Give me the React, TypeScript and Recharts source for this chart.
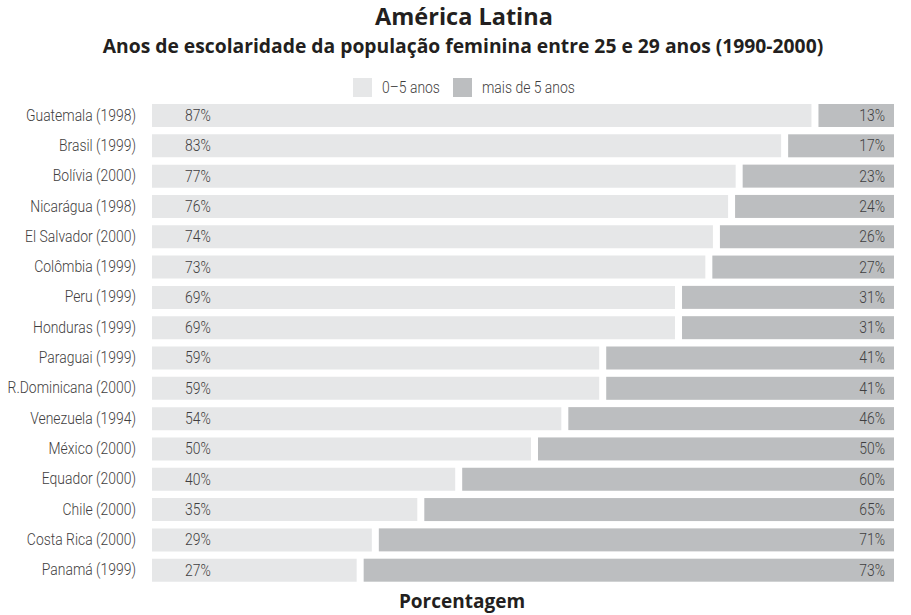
import { Bar, BarChart, LabelList, XAxis, YAxis } from "recharts";

const countries = [
  "Guatemala (1998)",
  "Brasil (1999)",
  "Bolívia (2000)",
  "Nicarágua (1998)",
  "El Salvador (2000)",
  "Colômbia (1999)",
  "Peru (1999)",
  "Honduras (1999)",
  "Paraguai (1999)",
  "R.Dominicana (2000)",
  "Venezuela (1994)",
  "México (2000)",
  "Equador (2000)",
  "Chile (2000)",
  "Costa Rica (2000)",
  "Panamá (1999)",
];
const ate5 = [87, 83, 77, 76, 74, 73, 69, 69, 59, 59, 54, 50, 40, 35, 29, 27];
const mais5 = [13, 17, 23, 24, 26, 27, 31, 31, 41, 41, 46, 50, 60, 65, 71, 73];
const legendNames = ["0–5 anos", "mais de 5 anos"];

const LIGHT = "#e6e7e8";
const DARK = "#bcbec0";
const TXT = "#3f3e40";
const HEAD = "#231f20";
const NARROW = "Roboto, sans-serif";
const BOLD = "'Open Sans', 'Noto Sans', sans-serif";
const FS = 17;
const SX = 0.82; // squeeze text horizontally to fake a condensed face

const data = countries.map((c, i) => ({ pais: c, a: ate5[i], b: mais5[i] }));

const Narrow = ({ x, y, anchor, children }: any) => (
  <text
    transform={`translate(${x},${y}) scale(${SX},1)`}
    textAnchor={anchor}
    dominantBaseline="central"
    fontFamily={NARROW}
    fontWeight={300}
    fontSize={FS}
    fill={TXT}
  >
    {children}
  </text>
);

const CountryTick = (props: any) => {
  const { x, y, payload } = props;
  return <Narrow x={x} y={y} anchor="end">{payload.value}</Narrow>;
};

// dark segment has a white gap on the left and stops short of the edge
const DarkShape = (props: any) => {
  const { x, y, width, height } = props;
  return <rect x={x + 7} y={y} width={Math.max(0, width - 23)} height={height} fill={DARK} />;
};

const leftLabel = (p: any) => (
  <Narrow x={p.x + 33} y={p.y + p.height / 2} anchor="start">{`${p.value}%`}</Narrow>
);
const rightLabel = (p: any) => (
  <Narrow x={p.x + p.width - 25} y={p.y + p.height / 2} anchor="end">{`${p.value}%`}</Narrow>
);

export default function App() {
  return (
    <div style={{ position: "absolute", left: 0, top: 0, width: 911, height: 615, background: "#fff" }}>
      <BarChart
        width={911}
        height={615}
        data={data}
        layout="vertical"
        margin={{ top: 100, right: 1, bottom: 30, left: 0 }}
        barSize={23}
      >
        <XAxis type="number" domain={[0, 100]} hide />
        <YAxis
          type="category"
          dataKey="pais"
          width={152}
          axisLine={false}
          tickLine={false}
          tickMargin={10}
          tick={<CountryTick />}
        />
        <Bar dataKey="a" stackId="s" fill={LIGHT} isAnimationActive={false}>
          <LabelList dataKey="a" content={leftLabel} />
        </Bar>
        <Bar dataKey="b" stackId="s" fill={DARK} shape={DarkShape} isAnimationActive={false}>
          <LabelList dataKey="b" content={rightLabel} />
        </Bar>
      </BarChart>
      <svg width={911} height={615} style={{ position: "absolute", left: 0, top: 0, pointerEvents: "none" }}>
        <text x={464} y={25} textAnchor="middle" fontFamily={BOLD} fontWeight={700} fontSize={23.5} fill={HEAD}>
          América Latina
        </text>
        <text x={463} y={53} textAnchor="middle" fontFamily={BOLD} fontWeight={700} fontSize={19.3} fill={HEAD}>
          Anos de escolaridade da população feminina entre 25 e 29 anos (1990-2000)
        </text>
        <rect x={353} y={78} width={19} height={19} fill={LIGHT} />
        <Narrow x={382} y={88} anchor="start">{legendNames[0]}</Narrow>
        <rect x={453} y={78} width={19} height={19} fill={DARK} />
        <Narrow x={482} y={88} anchor="start">{legendNames[1]}</Narrow>
        <text x={462} y={608} textAnchor="middle" fontFamily={BOLD} fontWeight={700} fontSize={19} fill={HEAD}>
          Porcentagem
        </text>
      </svg>
    </div>
  );
}
